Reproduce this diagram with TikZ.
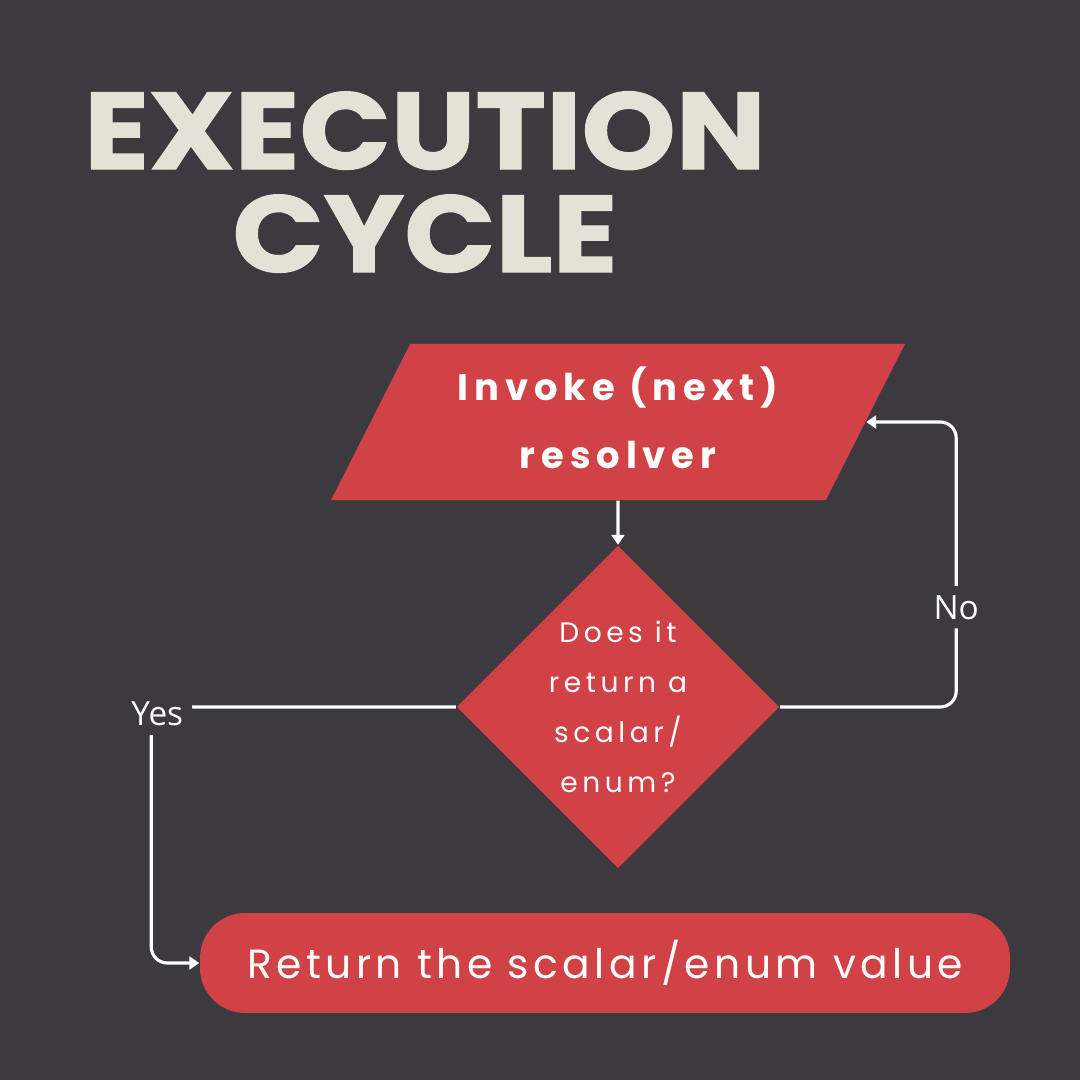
\documentclass[tikz,border=0pt]{standalone}
\usepackage{fontspec}
\setmainfont{Poppins}
\newfontfamily\titlefont{Poppins}[FakeStretch=1.1, FakeBold=1.2]
\newfontfamily\spacedfont{Poppins}[LetterSpace=16]
\newfontfamily\widefont{Poppins}[LetterSpace=11]
\newfontfamily\labelfont{Open Sans}
\usetikzlibrary{shapes.geometric,arrows.meta}

\definecolor{bgdark}{HTML}{3C393F}
\definecolor{boxred}{HTML}{D14247}
\definecolor{titlecream}{HTML}{E3E2D6}

\tikzset{
  flow/.style={draw=white, line width=0.9pt, rounded corners=0.16cm,
    -{Triangle[length=1.0mm,width=1.3mm]}},
  redbox/.style={fill=boxred, text=white, align=center, inner sep=0pt},
  heading/.style={text=titlecream, inner sep=0pt, align=center,
    font=\titlefont\bfseries\fontsize{31}{29.3}\selectfont},
  answer/.style={fill=bgdark, text=white, inner sep=0.9mm,
    font=\labelfont\fontsize{9.5}{11}\selectfont}
}

\begin{document}
\begin{tikzpicture}
  % Background, fixes the page size
  \fill[bgdark] (0,0) rectangle (10.8,-10.8);

  % Heading, two lines
  \node[heading] (title) at (4.25,-1.82) {EXECUTION\\CYCLE};

  % Input box: parallelogram
  \node[redbox, shape=trapezium, trapezium left angle=61, trapezium right angle=119,
    trapezium stretches=true, minimum width=5.74cm, minimum height=1.56cm,
    text depth=0.08cm,
    font=\spacedfont\bfseries\fontsize{10.5}{19.4}\selectfont] (invoke) at (6.18,-4.22)
    {Invoke (next)\\resolver};

  % Decision
  \node[redbox, shape=diamond, aspect=1, minimum width=3.23cm, minimum height=3.23cm,
    font=\spacedfont\fontsize{8}{14.2}\selectfont] (check) at (6.18,-7.07)
    {Does it\\return a\\scalar/\\enum?};

  % Result
  \node[redbox, rounded corners=0.45cm, minimum width=8.1cm, minimum height=1cm,
    font=\widefont\fontsize{11.6}{14}\selectfont] (result) at (6.05,-9.63)
    {Return the scalar/enum value};

  % Connectors
  \draw[flow] (invoke.south) -- (check.north);
  \draw[flow] (check.east) -- ++(1.76,0) |- node[answer, pos=0.175] {No} (invoke.east);
  \draw[flow] (check.west) -| node[answer, pos=0.5, xshift=0.6mm, yshift=-0.7mm] {Yes}
    ([xshift=-4.8mm]result.west) -- (result.west);
\end{tikzpicture}
\end{document}
